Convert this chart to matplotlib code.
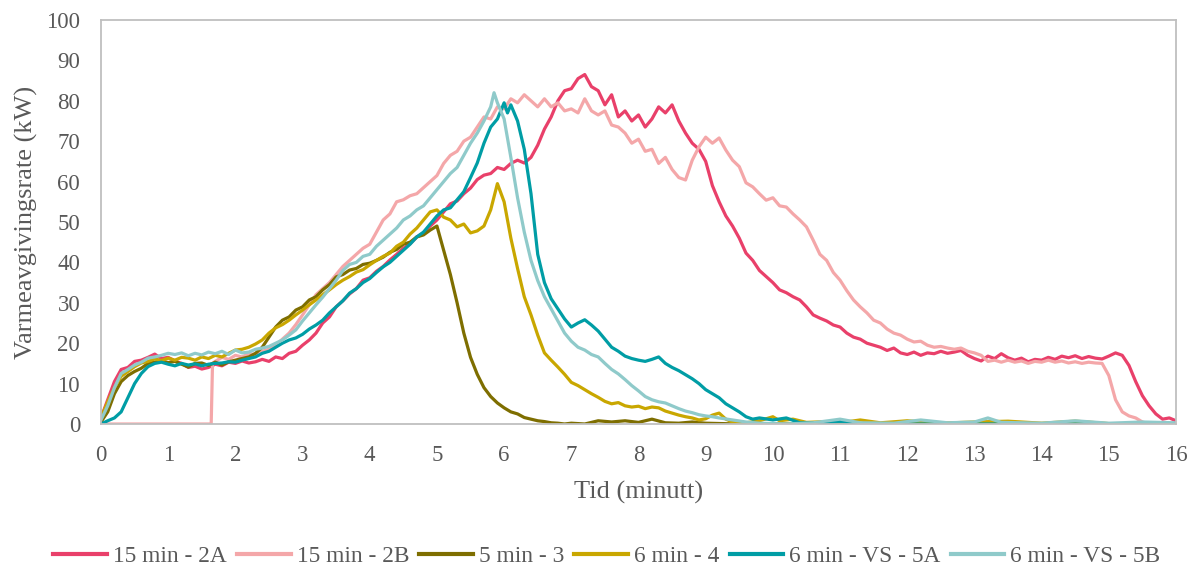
import matplotlib
matplotlib.use("Agg")
import matplotlib.pyplot as plt

# ---------------- data ----------------
grid = [round(0.1 * i, 1) for i in range(161)]

t_2a = grid
v_2a = [1.5, 6, 10.5, 13.5, 14, 15.5, 15.8, 16.5, 17.3, 16.2,
        16.5, 15.6, 15, 14, 14.3, 13.6, 14, 14.8, 14.4, 15.3,
        15, 15.6, 15.1, 15.4, 16, 15.5, 16.6, 16.2, 17.5, 18,
        19.5, 20.8, 22.5, 25, 26.5, 29, 30.5, 32.2, 33.5, 35.6,
        36.2, 37.8, 39, 40.6, 42, 43.5, 44.6, 46.3, 47.3, 49,
        50.5, 52.5, 54.5, 55.2, 57, 58.4, 60.5, 61.6, 62, 63.5,
        63, 64.5, 65.3, 64.6, 66, 69, 73, 76, 80, 82.5,
        83, 85.5, 86.5, 83.5, 82.5, 79, 81.5, 76, 77.5, 75,
        76.5, 73.5, 75.5, 78.5, 77, 79, 75, 72, 69.5, 68,
        65, 59, 55, 51.5, 49, 46, 42.3, 40.5, 38, 36.5,
        35, 33.2, 32.5, 31.5, 30.7, 29, 27, 26.2, 25.5, 24.5,
        24, 22.5, 21.5, 21, 20, 19.5, 19, 18.2, 18.8, 17.6,
        17.2, 17.8, 17, 17.6, 17.4, 18, 17.5, 17.8, 18.2, 17,
        16.2, 15.6, 16.8, 16.2, 17.4, 16.4, 15.8, 16.3, 15.4, 16,
        15.8, 16.5, 16, 16.8, 16.4, 16.9, 16.2, 16.7, 16.3, 16.1,
        16.8, 17.6, 17, 14.5, 10.5, 7, 4.5, 2.5, 1.2, 1.5,
        0.8]

t_2b = [0.0, 1.64, 1.66] + grid[17:157] + [16.0]
v_2b = [0, 0, 15,
        15.5, 16.5, 16, 17, 16.6, 17.4, 17.2, 18, 18.5, 19.5,        # 1.7-2.6
        21, 22.5, 24.6, 27, 29.5, 32, 33.5, 35, 37, 39,              # 2.7-3.6
        40.5, 42, 43.5, 44.5, 47.5, 50.5, 52, 55, 55.5, 56.5,        # 3.7-4.6
        57, 58.5, 60, 61.5, 64.5, 66.5, 67.5, 70, 71, 73.5,          # 4.7-5.6
        76, 75.5, 78.5, 78, 80.5, 79.5, 81.5, 80, 78.5, 80.5,        # 5.7-6.6
        78.5, 79.5, 77.5, 78, 77, 80.5, 77.5, 76.5, 77.5, 74,        # 6.7-7.6
        73.5, 72, 69.5, 70.5, 67.5, 68, 64.5, 66, 63, 61,            # 7.7-8.6
        60.4, 65.3, 68.6, 71, 69.5, 70.8, 67.8, 65.3, 63.7, 59.7,    # 8.7-9.6
        58.7, 57, 55.4, 56, 54, 53.7, 52, 50.5, 48.8, 45.5,          # 9.7-10.6
        42, 40.5, 37.5, 35.6, 33, 30.7, 29, 27.5, 25.7, 25,          # 10.7-11.6
        23.5, 22.5, 22, 21, 20.3, 20.5, 19.5, 19, 19.2, 18.8,        # 11.7-12.6
        18.5, 18.8, 18, 17.6, 17, 15.5, 15.8, 15.3, 15.8, 15.3,      # 12.7-13.6
        15.6, 15, 15.5, 15.3, 15.8, 15.3, 15.6, 15.1, 15.4, 15,      # 13.7-14.6
        15.3, 15.1, 15, 12, 6, 3, 2, 1.5, 0.5, 0,                    # 14.7-15.6
        0]

t_3 = grid[:70] + [7.0, 7.2, 7.4, 7.6, 7.8, 8.0, 8.2, 8.4, 8.6, 8.8, 9.0, 9.5, 16.0]
v_3 = [0.5, 3, 7.5, 10.5, 12, 13, 13.8, 15, 15.3, 15.6,
       15.2, 15.5, 14.8, 14.1, 15, 15.1, 14.5, 15.3, 14.6, 15.4,
       15.8, 16.2, 16.6, 17.5, 19, 21.5, 24, 25.7, 26.5, 28.2,
       29, 30.7, 31.5, 33.2, 34.5, 36.4, 37, 38.1, 38.5, 39.5,
       39.8, 40.5, 41.3, 42.5, 43.2, 44.5, 45, 46.3, 46.8, 48,
       49, 43, 37, 30, 22.5, 16.5, 12.3, 9, 6.8, 5.2,
       4, 3, 2.5, 1.6, 1.2, 0.8, 0.6, 0.3, 0.2, 0,
       0.2, 0, 0.8, 0.5, 0.8, 0.4, 1.2, 0.3, 0.2, 0.5, 0.2, 0, 0]

t_4 = grid[:96] + [9.6, 9.8, 10.0, 10.1, 10.3, 10.5, 10.8, 11.0, 11.3, 11.6,
                   12.0, 12.5, 13.0, 13.5, 14.0, 14.5, 15.0, 16.0]
v_4 = [1.5, 5.5, 9, 11.8, 13, 14.2, 15.1, 15.5, 16.1, 15.7,
       16.3, 15.8, 16.5, 16.3, 15.8, 16.6, 16.2, 17, 16.6, 17.5,
       18.3, 18.5, 19, 19.8, 20.8, 22.5, 23.8, 24.6, 25.7, 27,
       28.2, 29.5, 30.7, 32, 33.2, 34.5, 35.6, 36.5, 37.6, 38.2,
       39.4, 40.5, 41.5, 42.3, 44, 45, 47, 48.5, 50.5, 52.5,
       53, 51.2, 50.5, 48.8, 49.5, 47.3, 47.8, 49, 53, 59.5,
       55, 46, 38.5, 31.5, 27, 22, 17.6, 15.8, 14.1, 12.3,
       10.3, 9.5, 8.5, 7.5, 6.6, 5.6, 5, 5.3, 4.5, 4.2,
       4.4, 3.8, 4.2, 4.0, 3.2, 2.7, 2.2, 1.8, 1.5, 1.0,
       1.3, 2.2, 2.7, 1.2, 0.5, 0.3,
       0.3, 0.8, 1.8, 0.8, 1.2, 0.4, 0.6, 0.3, 1.0, 0.3,
       0.8, 0.2, 0.5, 0.7, 0.2, 0.7, 0.1, 0]

t_5a = (grid[:61] + [6.05] + grid[61:98]
        + [9.8, 10.0, 10.2, 10.4, 10.8, 11.0, 11.3, 16.0])
v_5a = [0, 0.8, 1.5, 3, 6.5, 10, 12.5, 14.2, 15, 15.3,
        14.8, 14.4, 15, 14.6, 14.9, 14.4, 14.8, 15, 15.1, 15.4,
        15.3, 15.8, 16.2, 16.6, 17.5, 18, 19, 20, 20.8, 21.3,
        22.2, 23.5, 24.5, 25.7, 27.5, 29, 30.5, 32.4, 33.5, 35,
        36, 37.5, 38.9, 40, 41.5, 43, 44.5, 46.3, 47.5, 49.5,
        51.5, 53, 53.5, 55.5, 57.5, 61, 64.6, 69.5, 73.5, 75.5,
        79.5, 77,
        79, 75, 68, 57, 42, 35, 31, 28.5, 26,
        24, 25, 25.8, 24.5, 23, 21, 19, 18, 16.8, 16.2,
        15.8, 15.5, 16, 16.6, 15, 14, 13.2, 12.2, 11.2, 10,
        8.5, 7.5, 6.5, 5, 4, 3, 1.8, 1.2,
        1.5, 1.0, 1.5, 0.3, 0.2, 0.6, 0, 0]

t_5b = (grid[:59] + [5.85] + grid[59:93]
        + [9.4, 9.6, 9.8, 10.2, 10.6, 11.0, 11.3, 11.8, 12.2, 12.6,
           13.0, 13.2, 13.4, 14.0, 14.5, 15.0, 15.5, 16.0])
v_5b = [1, 4.5, 9, 12.5, 13.5, 14.6, 15.3, 16.3, 16.6, 17,
        17.5, 17.2, 17.6, 16.9, 17.5, 17.1, 17.8, 17.4, 18, 17.2,
        18.3, 17.6, 17.8, 18.5, 18.8, 19.2, 20, 20.8, 22, 23.3,
        25.5, 27.5, 29.5, 31.4, 33.5, 35.6, 38, 39.5, 40, 41.5,
        42, 44, 45.5, 47, 48.5, 50.5, 51.5, 53, 54, 56,
        58, 60, 62, 63.5, 66.5, 69.5, 72, 75, 78.5,
        82,
        79.5, 75.5, 66, 56, 47.5, 40.5, 35.5, 31.5, 28.5, 25.5, 22.5,
        20.5, 19, 18.3, 17.2, 16.6, 15, 13.5, 12.4, 11, 9.5,
        8.2, 6.8, 6, 5.5, 5.2, 4.5, 3.8, 3.2, 2.8, 2.3,
        2, 1.8, 1.5,
        1, 0.5, 0.2, 0, 0.3, 1.2, 0.3, 0.2, 1.0, 0.3,
        0.5, 1.5, 0.4, 0.2, 0.8, 0.2, 0.5, 0.3]

labels = ["15 min - 2A", "15 min - 2B", "5 min - 3", "6 min - 4",
          "6 min - VS - 5A", "6 min - VS - 5B"]
colors = ["#E9406A", "#F4A7A9", "#7E6E00", "#C9A700", "#009DA5", "#8FCACA"]
x_ticks = list(range(0, 17))
y_ticks = list(range(0, 101, 10))

# ---------------- figure ----------------
plt.rcParams['font.family'] = ['Liberation Serif', 'DejaVu Serif']
txt = "#595959"

fig = plt.figure(figsize=(12.02, 5.70), dpi=100)
ax = fig.add_axes([101 / 1202, 1 - 424 / 570, 1075 / 1202, 404 / 570])

series = [(t_2a, v_2a), (t_2b, v_2b), (t_3, v_3), (t_4, v_4), (t_5a, v_5a), (t_5b, v_5b)]
for (t, v), lab, c in zip(series, labels, colors):
    ax.plot(t, v, color=c, lw=2.3, label=lab, solid_joinstyle='round')

ax.set_xlim(0, 16)
ax.set_ylim(0, 100)
ax.set_xticks(x_ticks)
ax.set_yticks(y_ticks)
ax.tick_params(axis='both', length=0, labelsize=16.5, colors=txt)
ax.tick_params(axis='x', pad=15)
ax.tick_params(axis='y', pad=15)
for s in ax.spines.values():
    s.set_color("#BFBFBF")
    s.set_linewidth(1.3)

ax.set_xlabel("Tid (minutt)", fontsize=19, color=txt, labelpad=11)
ax.set_ylabel("Varmeavgivingsrate (kW)", fontsize=19, color=txt, labelpad=6)

fig.legend(loc='center', bbox_to_anchor=(0.505, 1 - 556 / 570), ncol=6,
           frameon=False, fontsize=16.8, handlelength=2.3, handletextpad=0.26,
           columnspacing=0.43, labelcolor=txt, borderaxespad=0)
for line in fig.legends[0].get_lines():
    line.set_linewidth(3.0)

fig.savefig("out.png", dpi=100)
